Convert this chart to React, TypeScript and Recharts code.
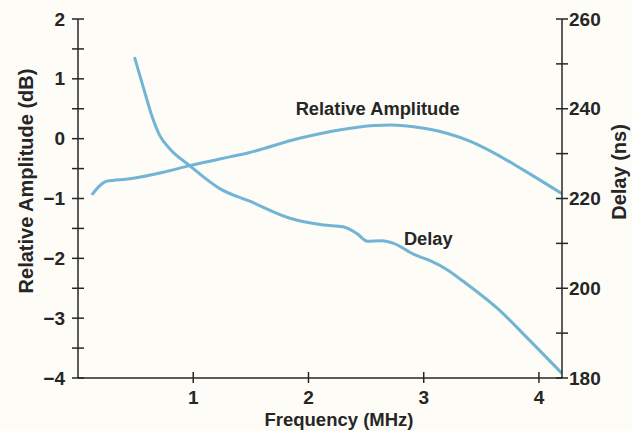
import { LineChart, Line, XAxis, YAxis, ReferenceDot, Label } from 'recharts';

// relative amplitude (dB) vs frequency (MHz)
const ampFreq = [0.12, 0.25, 0.45, 0.74, 0.97, 1.23, 1.49, 1.93, 2.28, 2.57, 2.72, 2.91, 3.2, 3.41, 3.64, 3.87, 4.2];
const ampDb = [-0.94, -0.71, -0.67, -0.56, -0.45, -0.34, -0.23, 0.01, 0.15, 0.22, 0.23, 0.2, 0.09, -0.05, -0.27, -0.53, -0.92];

// delay (ns) vs frequency (MHz)
const delayFreq = [0.49, 0.57, 0.64, 0.71, 0.8, 0.97, 1.06, 1.23, 1.49, 1.84, 2.13, 2.3, 2.42, 2.51, 2.64, 2.74, 2.91, 3.06, 3.2, 3.34, 3.64, 3.93, 4.2];
const delayNs = [251.5, 244.5, 238.5, 234.0, 231.0, 227.3, 225.4, 222.2, 219.4, 215.6, 214.1, 213.7, 212.2, 210.5, 210.6, 210.0, 207.6, 206.1, 204.2, 201.6, 195.5, 188.1, 181.0];

const freqTicks = [1, 2, 3, 4];
const ampTicks = [-4, -3.5, -3, -2.5, -2, -1.5, -1, -0.5, 0, 0.5, 1, 1.5, 2];
const delayTicks = [180, 190, 200, 210, 220, 230, 240, 250, 260];

const ampData = ampFreq.map((f, i) => ({ f, amp: ampDb[i] }));
const delayData = delayFreq.map((f, i) => ({ f, delay: delayNs[i] }));

const FONT = '"Liberation Sans", Arial, Helvetica, sans-serif';
const INK = '#262626';
const CURVE = '#72b4d4';

const fmt = (v: number) => (v < 0 ? '\u2212' + Math.abs(v) : String(v));

const LeftTick = (props: any) => {
  const { x, y, payload } = props;
  const v = payload.value;
  return (
    <g>
      <line x1={x - 6} x2={x + 6} y1={y} y2={y} stroke={INK} strokeWidth={1.5} />
      {Number.isInteger(v) && (
        <text x={x - 13} y={y} textAnchor="end" dominantBaseline="central" fill={INK}
          fontFamily={FONT} fontWeight="bold" fontSize={19}>{fmt(v)}</text>
      )}
    </g>
  );
};

const RightTick = (props: any) => {
  const { x, y, payload } = props;
  const v = payload.value;
  return (
    <g>
      <line x1={x - 6} x2={x + 6} y1={y} y2={y} stroke={INK} strokeWidth={1.5} />
      {v % 20 === 0 && (
        <text x={x + 7} y={y} textAnchor="start" dominantBaseline="central" fill={INK}
          fontFamily={FONT} fontWeight="bold" fontSize={19}>{v}</text>
      )}
    </g>
  );
};

const BottomTick = (props: any) => {
  const { x, y, payload } = props;
  return (
    <g>
      <line x1={x} x2={x} y1={y - 6} y2={y + 5} stroke={INK} strokeWidth={1.5} />
      <text x={x} y={y + 19} textAnchor="middle" dominantBaseline="central" fill={INK}
        fontFamily={FONT} fontWeight="bold" fontSize={19}>{payload.value}</text>
    </g>
  );
};

const Note = ({ text }: { text: string }) => (props: any) => {
  const { viewBox } = props;
  return (
    <text x={viewBox.x} y={viewBox.y} textAnchor="middle" dominantBaseline="central" fill={INK}
      fontFamily={FONT} fontWeight="bold" fontSize={18.3}>{text}</text>
  );
};

export default function App() {
  return (
    <div style={{ position: 'absolute', left: 0, top: 0, width: 632, height: 431, background: '#fdfcf7' }}>
      <LineChart width={632} height={431} margin={{ top: 19, right: 0, bottom: 0, left: 0 }}>
        <XAxis dataKey="f" type="number" domain={[0, 4.2]} ticks={freqTicks} interval={0}
          height={53} tickSize={0} tickMargin={0} tickLine={false} tick={<BottomTick />}
          axisLine={{ stroke: INK, strokeWidth: 1.5 }} allowDataOverflow>
          <Label content={() => (
            <text x={339} y={419} textAnchor="middle" dominantBaseline="central" fill={INK}
              fontFamily={FONT} fontWeight="bold" fontSize={18.5}>Frequency (MHz)</text>
          )} />
        </XAxis>
        <YAxis yAxisId="amp" orientation="left" domain={[-4, 2]} ticks={ampTicks} interval={0}
          width={78} tickSize={0} tickMargin={0} tickLine={false} tick={<LeftTick />}
          axisLine={{ stroke: INK, strokeWidth: 1.5 }} allowDataOverflow>
          <Label content={() => (
            <text x={26} y={181} transform="rotate(-90 26 181)" textAnchor="middle" dominantBaseline="central"
              fill={INK} fontFamily={FONT} fontWeight="bold" fontSize={20}>Relative Amplitude (dB)</text>
          )} />
        </YAxis>
        <YAxis yAxisId="delay" orientation="right" domain={[180, 260]} ticks={delayTicks} interval={0}
          width={70} tickSize={0} tickMargin={0} tickLine={false} tick={<RightTick />}
          axisLine={{ stroke: INK, strokeWidth: 1.5 }} allowDataOverflow>
          <Label content={() => (
            <text x={619} y={172} transform="rotate(-90 619 172)" textAnchor="middle" dominantBaseline="central"
              fill={INK} fontFamily={FONT} fontWeight="bold" fontSize={20}>Delay (ns)</text>
          )} />
        </YAxis>
        <Line yAxisId="amp" data={ampData} dataKey="amp" type="monotone" stroke={CURVE} strokeWidth={3}
          dot={false} activeDot={false} isAnimationActive={false} />
        <Line yAxisId="delay" data={delayData} dataKey="delay" type="monotone" stroke={CURVE} strokeWidth={3}
          dot={false} activeDot={false} isAnimationActive={false} />
        <ReferenceDot yAxisId="amp" x={2.6} y={0.5} r={0} fill="none" stroke="none"
          label={Note({ text: 'Relative Amplitude' })} />
        <ReferenceDot yAxisId="delay" x={3.04} y={211} r={0} fill="none" stroke="none"
          label={Note({ text: 'Delay' })} />
      </LineChart>
    </div>
  );
}
